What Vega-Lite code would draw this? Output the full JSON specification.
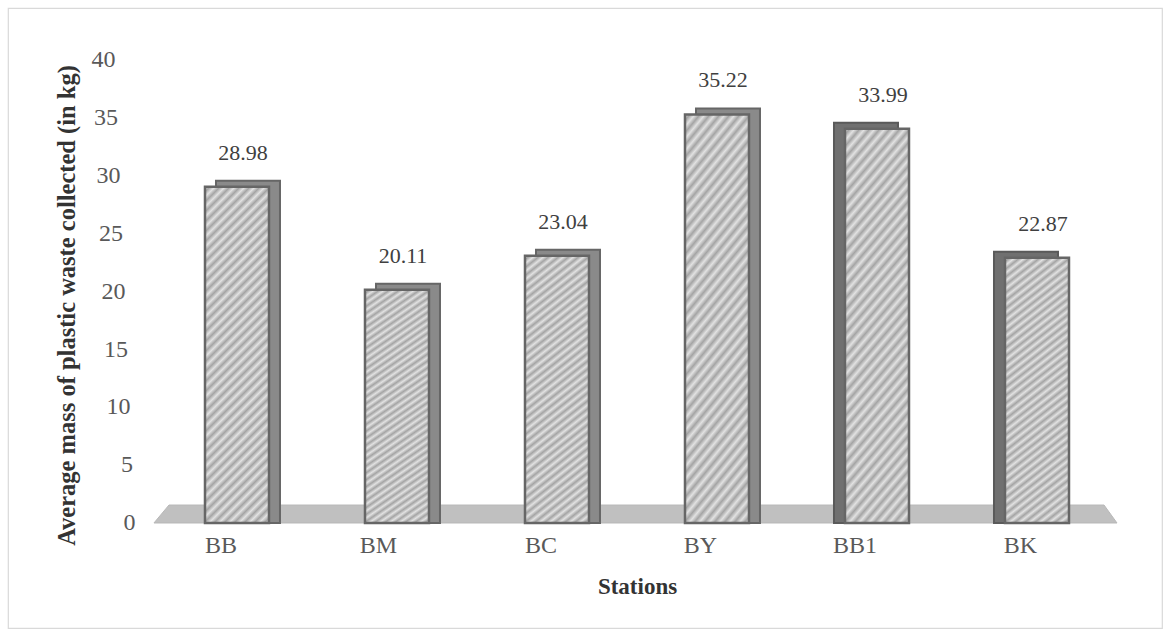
{
  "$schema": "https://vega.github.io/schema/vega-lite/v6.json",
  "width": 1154,
  "height": 620,
  "autosize": {"type": "none"},
  "padding": {"left": 8, "top": 8, "right": 9, "bottom": 11},
  "background": "white",
  "config": {
    "view": {"stroke": "#d9d9d9", "strokeWidth": 1.2},
    "font": "'Liberation Serif', 'Times New Roman', serif"
  },
  "datasets": {
    "stations": [
      {"station": "BB", "mass": 28.98},
      {"station": "BM", "mass": 20.11},
      {"station": "BC", "mass": 23.04},
      {"station": "BY", "mass": 35.22},
      {"station": "BB1", "mass": 33.99},
      {"station": "BK", "mass": 22.87}
    ],
    "floor": [
      {"level": 0, "left": -0.519, "right": 5.5},
      {"level": 1.55, "left": -0.425, "right": 5.419}
    ]
  },
  "layer": [
    {
      "data": {"name": "floor"},
      "mark": {"type": "area", "orient": "horizontal", "fill": "#c0c0c0", "stroke": "#b8b8b8", "strokeWidth": 1},
      "encoding": {
        "y": {"field": "level", "type": "quantitative", "scale": {"domain": [-9.052, 44.397], "nice": false, "zero": false}},
        "x": {"field": "left", "type": "quantitative", "scale": {"domain": [-1.43125, 5.78125], "nice": false, "zero": false}, "axis": null},
        "x2": {"field": "right"}
      }
    },
    {
      "data": {"name": "stations"},
      "layer": [
        {
          "transform": [{"filter": {"field": "station", "oneOf": ["BB", "BM", "BC", "BY"]}}],
          "mark": {"type": "bar", "width": 64, "xOffset": 11, "yOffset": -6, "fill": "#8a8a8a", "stroke": "#666666", "strokeWidth": 2},
          "encoding": {
            "x": {"field": "station", "type": "nominal", "scale": {"domain": ["BB", "BM", "BC", "BY", "BB1", "BK"], "paddingInner": 0, "paddingOuter": 0.60625, "align": 0.768}},
            "y": {"field": "mass", "type": "quantitative", "scale": {"domain": [-9.052, 44.397], "nice": false, "zero": false}},
            "y2": {"datum": 0}
          }
        },
        {
          "transform": [{"filter": {"field": "station", "oneOf": ["BB1", "BK"]}}],
          "mark": {"type": "bar", "width": 64, "xOffset": -11, "yOffset": -6, "fill": "#707070", "stroke": "#5a5a5a", "strokeWidth": 2},
          "encoding": {
            "x": {"field": "station", "type": "nominal", "scale": {"domain": ["BB", "BM", "BC", "BY", "BB1", "BK"], "paddingInner": 0, "paddingOuter": 0.60625, "align": 0.768}},
            "y": {"field": "mass", "type": "quantitative", "scale": {"domain": [-9.052, 44.397], "nice": false, "zero": false}},
            "y2": {"datum": 0}
          }
        },
        {
          "mark": {
            "type": "bar", "width": 64, "stroke": "#666666", "strokeWidth": 2.5,
            "fill": {
              "gradient": "linear", "x1": 0, "y1": 0, "x2": 0.218, "y2": 1.1485,
              "stops": [
                {"offset": 0, "color": "#e2e2e2"}, {"offset": 0.0125, "color": "#a4a4a4"},
                {"offset": 0.025, "color": "#e2e2e2"}, {"offset": 0.0375, "color": "#a4a4a4"},
                {"offset": 0.05, "color": "#e2e2e2"}, {"offset": 0.0625, "color": "#a4a4a4"},
                {"offset": 0.075, "color": "#e2e2e2"}, {"offset": 0.0875, "color": "#a4a4a4"},
                {"offset": 0.1, "color": "#e2e2e2"}, {"offset": 0.1125, "color": "#a4a4a4"},
                {"offset": 0.125, "color": "#e2e2e2"}, {"offset": 0.1375, "color": "#a4a4a4"},
                {"offset": 0.15, "color": "#e2e2e2"}, {"offset": 0.1625, "color": "#a4a4a4"},
                {"offset": 0.175, "color": "#e2e2e2"}, {"offset": 0.1875, "color": "#a4a4a4"},
                {"offset": 0.2, "color": "#e2e2e2"}, {"offset": 0.2125, "color": "#a4a4a4"},
                {"offset": 0.225, "color": "#e2e2e2"}, {"offset": 0.2375, "color": "#a4a4a4"},
                {"offset": 0.25, "color": "#e2e2e2"}, {"offset": 0.2625, "color": "#a4a4a4"},
                {"offset": 0.275, "color": "#e2e2e2"}, {"offset": 0.2875, "color": "#a4a4a4"},
                {"offset": 0.3, "color": "#e2e2e2"}, {"offset": 0.3125, "color": "#a4a4a4"},
                {"offset": 0.325, "color": "#e2e2e2"}, {"offset": 0.3375, "color": "#a4a4a4"},
                {"offset": 0.35, "color": "#e2e2e2"}, {"offset": 0.3625, "color": "#a4a4a4"},
                {"offset": 0.375, "color": "#e2e2e2"}, {"offset": 0.3875, "color": "#a4a4a4"},
                {"offset": 0.4, "color": "#e2e2e2"}, {"offset": 0.4125, "color": "#a4a4a4"},
                {"offset": 0.425, "color": "#e2e2e2"}, {"offset": 0.4375, "color": "#a4a4a4"},
                {"offset": 0.45, "color": "#e2e2e2"}, {"offset": 0.4625, "color": "#a4a4a4"},
                {"offset": 0.475, "color": "#e2e2e2"}, {"offset": 0.4875, "color": "#a4a4a4"},
                {"offset": 0.5, "color": "#e2e2e2"}, {"offset": 0.5125, "color": "#a4a4a4"},
                {"offset": 0.525, "color": "#e2e2e2"}, {"offset": 0.5375, "color": "#a4a4a4"},
                {"offset": 0.55, "color": "#e2e2e2"}, {"offset": 0.5625, "color": "#a4a4a4"},
                {"offset": 0.575, "color": "#e2e2e2"}, {"offset": 0.5875, "color": "#a4a4a4"},
                {"offset": 0.6, "color": "#e2e2e2"}, {"offset": 0.6125, "color": "#a4a4a4"},
                {"offset": 0.625, "color": "#e2e2e2"}, {"offset": 0.6375, "color": "#a4a4a4"},
                {"offset": 0.65, "color": "#e2e2e2"}, {"offset": 0.6625, "color": "#a4a4a4"},
                {"offset": 0.675, "color": "#e2e2e2"}, {"offset": 0.6875, "color": "#a4a4a4"},
                {"offset": 0.7, "color": "#e2e2e2"}, {"offset": 0.7125, "color": "#a4a4a4"},
                {"offset": 0.725, "color": "#e2e2e2"}, {"offset": 0.7375, "color": "#a4a4a4"},
                {"offset": 0.75, "color": "#e2e2e2"}, {"offset": 0.7625, "color": "#a4a4a4"},
                {"offset": 0.775, "color": "#e2e2e2"}, {"offset": 0.7875, "color": "#a4a4a4"},
                {"offset": 0.8, "color": "#e2e2e2"}, {"offset": 0.8125, "color": "#a4a4a4"},
                {"offset": 0.825, "color": "#e2e2e2"}, {"offset": 0.8375, "color": "#a4a4a4"},
                {"offset": 0.85, "color": "#e2e2e2"}, {"offset": 0.8625, "color": "#a4a4a4"},
                {"offset": 0.875, "color": "#e2e2e2"}, {"offset": 0.8875, "color": "#a4a4a4"},
                {"offset": 0.9, "color": "#e2e2e2"}, {"offset": 0.9125, "color": "#a4a4a4"},
                {"offset": 0.925, "color": "#e2e2e2"}, {"offset": 0.9375, "color": "#a4a4a4"},
                {"offset": 0.95, "color": "#e2e2e2"}, {"offset": 0.9625, "color": "#a4a4a4"},
                {"offset": 0.975, "color": "#e2e2e2"}, {"offset": 0.9875, "color": "#a4a4a4"},
                {"offset": 1, "color": "#e2e2e2"}
              ]
            }
          },
          "encoding": {
            "x": {
              "field": "station", "type": "nominal",
              "scale": {"domain": ["BB", "BM", "BC", "BY", "BB1", "BK"], "paddingInner": 0, "paddingOuter": 0.60625, "align": 0.768},
              "axis": {
                "title": "Stations", "orient": "bottom", "offset": -105, "domain": false, "ticks": false, "grid": false,
                "labelAngle": 0, "labelFontSize": 24, "labelColor": "#595959", "labelPadding": 22,
                "titleFontSize": 23, "titleFontWeight": "bold", "titleColor": "#333333",
                "titlePadding": 18, "titleX": 629, "titleAlign": "center"
              }
            },
            "y": {
              "field": "mass", "type": "quantitative",
              "scale": {"domain": [-9.052, 44.397], "nice": false, "zero": false},
              "axis": {
                "title": "Average mass of plastic waste collected (in kg)", "orient": "left", "offset": -132,
                "values": [0, 5, 10, 15, 20, 25, 30, 35, 40], "domain": false, "ticks": false, "grid": false,
                "labelFontSize": 24, "labelColor": "#595959",
                "labelPadding": {"expr": "5 + datum.value * 0.5"}, "labelBaseline": "middle",
                "titleFontSize": 24.5, "titleFontWeight": "bold", "titleColor": "#333333",
                "titleX": -73, "titleY": 297, "titleAngle": -90, "titleAlign": "center", "titleBaseline": "middle"
              }
            },
            "y2": {"datum": 0}
          }
        },
        {
          "mark": {"type": "text", "dx": 6, "dy": -27, "baseline": "alphabetic", "align": "center", "fontSize": 22, "color": "#404040", "font": "'Liberation Serif', 'Times New Roman', serif"},
          "encoding": {
            "x": {"field": "station", "type": "nominal", "scale": {"domain": ["BB", "BM", "BC", "BY", "BB1", "BK"], "paddingInner": 0, "paddingOuter": 0.60625, "align": 0.768}},
            "y": {"field": "mass", "type": "quantitative", "scale": {"domain": [-9.052, 44.397], "nice": false, "zero": false}},
            "text": {"field": "mass", "type": "quantitative", "format": ".2f"}
          }
        }
      ]
    }
  ],
  "resolve": {"scale": {"x": "independent"}, "axis": {"x": "independent"}}
}
